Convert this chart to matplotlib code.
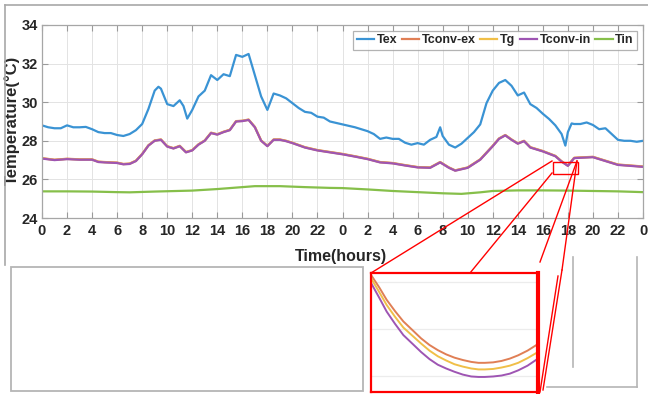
import matplotlib
matplotlib.use("Agg")
import matplotlib.pyplot as plt
from matplotlib.lines import Line2D
from matplotlib.patches import Rectangle

plt.rcParams['font.family'] = ['Liberation Sans', 'DejaVu Sans']
plt.rcParams['font.weight'] = 'bold'

# ---------------- data ----------------
tex_hours = [0, 0.5, 1, 1.5, 2, 2.5, 3, 3.5, 4, 4.5, 5, 5.5, 6, 6.5, 7, 7.5, 8, 8.5, 9, 9.3, 9.5,
             10, 10.5, 11, 11.3, 11.6, 12, 12.5, 13, 13.5, 14, 14.5, 15, 15.5, 16, 16.5, 17, 17.5,
             18, 18.5, 19, 19.5, 20, 20.5, 21, 21.5, 22, 22.5, 23, 24, 25, 26, 26.5, 27, 27.5, 28,
             28.5, 29, 29.5, 30, 30.5, 31, 31.5, 31.8, 32, 32.5, 33, 33.5, 34, 34.5, 35, 35.5, 36,
             36.5, 37, 37.5, 38, 38.5, 39, 39.5, 40, 40.5, 41, 41.5, 41.8, 42, 42.3, 42.5, 43, 43.5,
             44, 44.5, 45, 45.5, 46, 46.5, 47, 47.5, 48]
tex = [28.8, 28.7, 28.65, 28.65, 28.8, 28.7, 28.7, 28.72, 28.6, 28.45, 28.4, 28.4, 28.3, 28.25,
       28.35, 28.55, 28.87, 29.65, 30.6, 30.8, 30.7, 29.9, 29.8, 30.1, 29.8, 29.15, 29.6, 30.3,
       30.6, 31.4, 31.15, 31.45, 31.35, 32.45, 32.35, 32.5, 31.4, 30.3, 29.6, 30.45, 30.35, 30.2,
       29.95, 29.7, 29.5, 29.45, 29.25, 29.2, 29.0, 28.85, 28.7, 28.5, 28.35, 28.1, 28.17, 28.1,
       28.1, 27.9, 27.8, 27.88, 27.8, 28.05, 28.2, 28.7, 28.25, 27.8, 27.65, 27.85, 28.15, 28.45,
       28.85, 29.95, 30.6, 31.0, 31.15, 30.85, 30.35, 30.5, 29.9, 29.7, 29.4, 29.13, 28.8, 28.35,
       27.75, 28.45, 28.9, 28.87, 28.87, 28.95, 28.82, 28.6, 28.65, 28.35, 28.05, 28.0, 28.0,
       27.95, 28.0]

tin_hours = [0, 2, 4, 6, 7, 9, 12, 14, 16, 17, 19, 21, 23, 24, 26, 28, 30, 32, 33.5, 35, 36, 38,
             40, 42, 44, 46, 48]
tin = [25.38, 25.38, 25.37, 25.34, 25.33, 25.37, 25.42, 25.5, 25.6, 25.65, 25.65, 25.6, 25.56,
       25.55, 25.48, 25.4, 25.34, 25.28, 25.25, 25.33, 25.4, 25.43, 25.43, 25.42, 25.4, 25.38, 25.34]

tconv_hours = [0, 1, 2, 3, 4, 4.5, 5, 6, 6.5, 7, 7.5, 8, 8.5, 9, 9.5, 10, 10.5, 11, 11.5, 12,
               12.5, 13, 13.5, 14, 14.5, 15, 15.5, 16, 16.5, 17, 17.5, 18, 18.5, 19, 19.5, 20,
               21, 22, 23, 24, 25, 26, 27, 28, 29, 30, 31, 31.8, 32.5, 33, 34, 35, 36, 36.5, 37,
               37.5, 38, 38.5, 39, 40, 41, 41.5, 42, 42.5, 43, 44, 45, 46, 47, 48]
tconv_in = [27.08, 27.0, 27.05, 27.02, 27.02, 26.9, 26.88, 26.85, 26.78, 26.8, 26.95, 27.3,
            27.75, 28.0, 28.05, 27.7, 27.6, 27.72, 27.4, 27.5, 27.8, 28.0, 28.4, 28.32, 28.45,
            28.55, 29.0, 29.02, 29.08, 28.7, 28.0, 27.72, 28.05, 28.05, 27.98, 27.88, 27.65, 27.5,
            27.4, 27.3, 27.18, 27.05, 26.88, 26.83, 26.72, 26.62, 26.6, 26.88, 26.6, 26.45, 26.6,
            27.02, 27.72, 28.1, 28.28, 28.05, 27.85, 27.98, 27.65, 27.45, 27.2, 26.92, 26.7,
            27.1, 27.12, 27.15, 26.95, 26.75, 26.7, 26.65]
tconv_ex = [27.1, 27.02, 27.07, 27.04, 27.04, 26.92, 26.9, 26.87, 26.8, 26.82, 26.97, 27.32,
            27.77, 28.02, 28.07, 27.72, 27.62, 27.74, 27.42, 27.52, 27.82, 28.02, 28.42, 28.34,
            28.47, 28.57, 29.02, 29.04, 29.1, 28.72, 28.02, 27.74, 28.07, 28.07, 28.0, 27.9,
            27.67, 27.52, 27.42, 27.32, 27.2, 27.07, 26.9, 26.85, 26.74, 26.64, 26.62, 26.9,
            26.62, 26.47, 26.62, 27.04, 27.74, 28.12, 28.3, 28.07, 27.87, 28.0, 27.67, 27.47,
            27.22, 26.94, 26.72, 27.12, 27.14, 27.17, 26.97, 26.77, 26.72, 26.67]
tg = [27.09, 27.01, 27.06, 27.03, 27.03, 26.91, 26.89, 26.86, 26.79, 26.81, 26.96, 27.31,
      27.76, 28.01, 28.06, 27.71, 27.61, 27.73, 27.41, 27.51, 27.81, 28.01, 28.41, 28.33,
      28.46, 28.56, 29.01, 29.03, 29.09, 28.71, 28.01, 27.73, 28.06, 28.06, 27.99, 27.89,
      27.66, 27.51, 27.41, 27.31, 27.19, 27.06, 26.89, 26.84, 26.73, 26.63, 26.61, 26.89,
      26.61, 26.46, 26.61, 27.03, 27.73, 28.11, 28.29, 28.06, 27.86, 27.99, 27.66, 27.46,
      27.21, 26.93, 26.71, 27.11, 27.13, 27.16, 26.96, 26.76, 26.71, 26.66]

# zoomed view data
zoom_hours = [41.0, 41.08, 41.15, 41.23, 41.31, 41.4, 41.48, 41.56, 41.64, 41.72, 41.8, 41.88,
              41.96, 42.03, 42.09, 42.17, 42.25, 42.33, 42.41, 42.5, 42.6]
zoom_tconv_ex = [26.915, 26.888, 26.862, 26.838, 26.816, 26.797, 26.780, 26.766, 26.755, 26.746,
                 26.739, 26.734, 26.730, 26.728, 26.728, 26.729, 26.732, 26.737, 26.744, 26.754, 26.768]
zoom_tg = [26.908, 26.878, 26.851, 26.826, 26.803, 26.785, 26.769, 26.754, 26.742, 26.733,
           26.725, 26.720, 26.716, 26.714, 26.714, 26.715, 26.718, 26.722, 26.728, 26.738, 26.751]
zoom_tconv_in = [26.898, 26.866, 26.837, 26.811, 26.787, 26.768, 26.751, 26.736, 26.724, 26.716,
                 26.709, 26.703, 26.699, 26.698, 26.698, 26.699, 26.701, 26.705, 26.712, 26.722, 26.737]

xtick_pos = list(range(0, 49, 2))
xtick_labels = [str(h % 24) for h in xtick_pos]
ytick_pos = [24, 26, 28, 30, 32, 34]

c_tex = '#3a93d4'
c_ex = '#e07f55'
c_tg = '#f0bf48'
c_in = '#9e55b3'
c_tin = '#86bf4a'

W, H = 648, 394
fig = plt.figure(figsize=(6.48, 3.94), dpi=100)

def fx(x):
    return x / W

def fy(y):
    return 1 - y / H

# outer frame lines
fig.add_artist(Line2D([fx(5), fx(648)], [fy(5), fy(5)], transform=fig.transFigure, color='#a8a8a8', lw=1.2))
fig.add_artist(Line2D([fx(5), fx(5)], [fy(5), fy(265)], transform=fig.transFigure, color='#a8a8a8', lw=1.2))

# main axes
ax = fig.add_axes([fx(42), fy(218), fx(643) - fx(42), fy(25) - fy(218)])
ax.plot(tex_hours, tex, color=c_tex, lw=1.6, label='Tex')
ax.plot(tconv_hours, tconv_ex, color=c_ex, lw=1.6, label='Tconv-ex')
ax.plot(tconv_hours, tg, color=c_tg, lw=1.6, label='Tg')
ax.plot(tconv_hours, tconv_in, color=c_in, lw=1.6, label='Tconv-in')
ax.plot(tin_hours, tin, color=c_tin, lw=1.6, label='Tin')
ax.set_xlim(0, 48)
ax.set_ylim(24, 34)
ax.set_xticks(xtick_pos)
ax.set_xticklabels(xtick_labels)
ax.set_yticks(ytick_pos)
ax.grid(True, color='#e3e3e3', lw=0.7)
ax.set_axisbelow(True)
ax.tick_params(direction='in', top=True, right=True, length=4, width=0.8, color='#9a9a9a',
               labelsize=10.5, labelcolor='#262626', pad=4)
ax.tick_params(axis='y', pad=3)
for lab in ax.get_xticklabels() + ax.get_yticklabels():
    lab.set_fontweight('bold')
for s in ax.spines.values():
    s.set_color('#a6a6a6')
    s.set_linewidth(0.9)
ax.set_xlabel('Time(hours)', fontsize=11.5, fontweight='bold', color='#262626')
ax.set_ylabel('Temperature(°C)', fontsize=12, fontweight='bold', color='#262626')
ax.xaxis.set_label_coords(0.4975, -0.163)
ax.yaxis.set_label_coords(-0.037, 0.508)
leg = ax.legend(loc='upper right', ncol=5, fontsize=9, handlelength=1.4, handletextpad=0.2,
                columnspacing=0.35, borderpad=0.25, borderaxespad=0.5, frameon=True, fancybox=False)
leg.get_frame().set_edgecolor('#a0a0a0')
leg.get_frame().set_linewidth(0.9)
for t in leg.get_texts():
    t.set_fontweight('bold')
    t.set_color('#262626')

# small zoom rectangle on main plot
ax.add_patch(Rectangle((40.8, 26.29), 2.0, 0.63, fill=False, edgecolor='red', lw=1.0, zorder=5))

# bottom-left empty box
fig.add_artist(Rectangle((fx(11), fy(391)), fx(363) - fx(11), fy(267) - fy(391),
                         transform=fig.transFigure, fill=False, edgecolor='#b5b5b5', lw=1.3))

# right partial box lines
for (x0, y0, x1, y1) in [(573, 257, 573, 367), (637, 257, 637, 387), (547, 387, 637, 387)]:
    fig.add_artist(Line2D([fx(x0), fx(x1)], [fy(y0), fy(y1)], transform=fig.transFigure,
                          color='#b5b5b5', lw=1.2))

# inset axes
axi = fig.add_axes([fx(371), fy(392), fx(538) - fx(371), fy(273) - fy(392)])
axi.plot(zoom_hours, zoom_tconv_ex, color=c_ex, lw=1.4)
axi.plot(zoom_hours, zoom_tg, color=c_tg, lw=1.4)
axi.plot(zoom_hours, zoom_tconv_in, color=c_in, lw=1.4)
axi.set_xlim(zoom_hours[0], zoom_hours[-1])
axi.set_ylim(26.666, 26.919)
axi.set_yticks([26.7, 26.8, 26.9])
axi.set_xticks([])
axi.yaxis.grid(True, color='#ececec', lw=0.9)
axi.tick_params(left=False, labelleft=False)
for s in axi.spines.values():
    s.set_color('red')
    s.set_linewidth(1.6)
axi.spines['right'].set_linewidth(3.0)

# connector lines
for (x0, y0, x1, y1) in [(552, 161, 371, 273), (552, 173, 470, 273), (577, 161, 540, 262),
                         (577, 161, 562, 270), (562, 270, 543, 390), (558, 276, 540, 392)]:
    fig.add_artist(Line2D([fx(x0), fx(x1)], [fy(y0), fy(y1)], transform=fig.transFigure,
                          color='red', lw=1.0))

fig.savefig('out.png', dpi=100)
